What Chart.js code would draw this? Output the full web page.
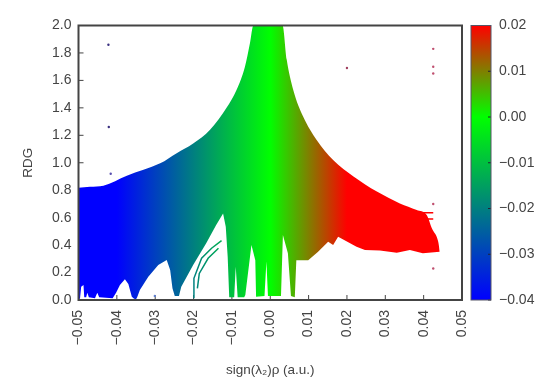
<!DOCTYPE html>
<html>
<head>
<meta charset="utf-8">
<title>RDG scatter</title>
<script src="https://cdn.jsdelivr.net/npm/chart.js@4"></script>
<style>
    html, body { margin: 0; padding: 0; background: #fff; }
    canvas { filter: blur(0.7px); }
    #myChart { position: absolute; left: 0; top: 0; }
    #colorBar { position: absolute; left: 465px; top: 0; }
</style>
</head>
<body>
<canvas id="myChart" width="550" height="386"></canvas>
<canvas id="colorBar" width="85" height="386"></canvas>
<script>
// outline of the cloud
const upperX = [-0.05, -0.047, -0.0435, -0.0374, -0.0287, -0.0244, -0.0201, -0.0157, -0.0114, -0.0088, -0.0066, -0.0053, -0.0044,
    0.0032, 0.0043, 0.006, 0.0086, 0.0121, 0.0164, 0.0217, 0.0278, 0.0338, 0.0382, 0.0408, 0.0422, 0.0438, 0.0442];
const upperRdg = [0.818, 0.825, 0.833, 0.906, 0.996, 1.07, 1.14, 1.24, 1.40, 1.53, 1.70, 1.87, 2.0,
    2.0, 1.75, 1.53, 1.335, 1.166, 1.02, 0.90, 0.79, 0.704, 0.656, 0.62, 0.52, 0.425, 0.352];

const lowerX = [-0.05, -0.0496, -0.0493, -0.0487, -0.0485, -0.048, -0.0477, -0.0473, -0.0457, -0.0451, -0.0446,
    -0.0411, -0.0402, -0.0392, -0.0379, -0.037, -0.0361, -0.0355, -0.035, -0.0347, -0.034, -0.0318, -0.0292, -0.027, -0.0261, -0.0255, -0.0249,
    -0.0238, -0.0232, -0.0201, -0.0167, -0.0141, -0.0123, -0.0116, -0.0111, -0.0107, -0.0094, -0.009, -0.0085,
    -0.0068, -0.0065, -0.0049, -0.0039, -0.0037, -0.0015, -0.001, -0.0006,
    0.0028, 0.0033, 0.0046, 0.0054, 0.0064, 0.0068, 0.0099, 0.0124, 0.0151, 0.0164, 0.0177, 0.0225, 0.0247, 0.0286, 0.033, 0.0364, 0.0398, 0.0442];
const lowerRdg = [0, 0.012, 0.097, 0.109, 0.02, 0.02, 0.053, 0.02, 0.012, 0.053, 0.02,
    0.012, 0.053, 0.109, 0.151, 0.117, 0.024, 0.01, 0.005, 0.02, 0.073, 0.17, 0.255, 0.291, 0.218, 0.085, 0.029,
    0.029, 0.097, 0.255, 0.413, 0.546, 0.631, 0.534, 0.316, 0.02, 0.02, 0.243, 0.02,
    0.02, 0.036, 0.40, 0.29, 0.024, 0.03, 0.28, 0.03,
    0.03, 0.474, 0.34, 0.03, 0.02, 0.29, 0.29, 0.35, 0.425, 0.40, 0.461, 0.388, 0.364, 0.36, 0.345, 0.364, 0.34, 0.352];

// thin strands that stand apart from the main cloud
const strands = [
    { x: [-0.0199, -0.0199, -0.0179, -0.0153, -0.0127], y: [0.012, 0.158, 0.304, 0.377, 0.432] },
    { x: [-0.019, -0.0185, -0.0162, -0.0135], y: [0.085, 0.194, 0.304, 0.377] },
    { x: [0.0395, 0.0425], y: [0.636, 0.636] },
    { x: [0.0395, 0.0425], y: [0.59, 0.59] }
];

// pale slit through the cloud near the top of the wedge
const slitX = [-0.0153, -0.014];
const slitRdg = [0.51, 0.607];

// stray points
const strayX = [-0.0422, -0.0421, -0.0416, -0.0301, 0.02, 0.0425, 0.0425, 0.0425, 0.0425, 0.0425];
const strayRdg = [1.86, 1.26, 0.92, 0.03, 1.69, 1.83, 1.70, 1.65, 0.70, 0.23];
const strayColors = ['#3a3080', '#3a3080', '#5a50b0', '#6080d0', '#a04060', '#c05070', '#c05070', '#c05070', '#c05070', '#c05070'];

const xTicks = [-0.05, -0.04, -0.03, -0.02, -0.01, 0, 0.01, 0.02, 0.03, 0.04, 0.05];
const yTicks = [0, 0.2, 0.4, 0.6, 0.8, 1.0, 1.2, 1.4, 1.6, 1.8, 2.0];
const barTicks = [-0.04, -0.03, -0.02, -0.01, 0, 0.01, 0.02];

const paletteValues = [-0.04, 0, 0.02];
const paletteColors = ['rgb(0, 0, 255)', 'rgb(0, 255, 0)', 'rgb(255, 0, 0)'];

const fontName = '"Liberation Sans", Arial, sans-serif';
const textColor = '#444';

function toPoints(xs, ys) {
    return xs.map((v, i) => ({ x: v, y: ys[i] }));
}

function fixTicks(values) {
    return function (scale) {
        scale.ticks = values.map(v => ({ value: v }));
    };
}

function minusLabel(digits) {
    return function (value) {
        return Number(value).toFixed(digits).replace('-', '\u2212');
    };
}

function paletteGradient(ctx, x0, y0, x1, y1) {
    if (![x0, y0, x1, y1].every(Number.isFinite)) return 'green';
    const g = ctx.createLinearGradient(x0, y0, x1, y1);
    const low = paletteValues[0];
    const high = paletteValues[paletteValues.length - 1];
    for (let i = 0; i < paletteValues.length; i++) {
        g.addColorStop((paletteValues[i] - low) / (high - low), paletteColors[i]);
    }
    return g;
}

function cloudColor(context) {
    const chart = context.chart;
    const x = chart.scales.x;
    if (!x) return 'green';
    return paletteGradient(chart.ctx, x.getPixelForValue(paletteValues[0]), 0, x.getPixelForValue(paletteValues[2]), 0);
}

function barColor(context) {
    const chart = context.chart;
    const y = chart.scales.y;
    if (!y) return 'green';
    return paletteGradient(chart.ctx, 0, y.getPixelForValue(paletteValues[0]), 0, y.getPixelForValue(paletteValues[2]));
}

// gnuplot style box round the plot
function framePlugin(width, color) {
    return {
        id: 'frame',
        afterDraw(chart) {
            const a = chart.chartArea;
            const c = chart.ctx;
            c.save();
            c.strokeStyle = color;
            c.lineWidth = width;
            c.strokeRect(a.left, a.top, a.right - a.left, a.bottom - a.top);
            c.restore();
        }
    };
}

// ticks point into the plot: the main chart has them under the cloud, the bar over its colours
function drawInnerTicks(chart, color, size) {
    const a = chart.chartArea;
    const c = chart.ctx;
    c.save();
    c.strokeStyle = color;
    c.lineWidth = 1;
    c.beginPath();
    if (chart.scales.x.options.display) {
        chart.scales.x.ticks.forEach(t => {
            const px = chart.scales.x.getPixelForValue(t.value);
            c.moveTo(px, a.bottom);
            c.lineTo(px, a.bottom - size);
        });
    }
    chart.scales.y.ticks.forEach(t => {
        const py = chart.scales.y.getPixelForValue(t.value);
        const side = chart.scales.y.options.position === 'right' ? a.right : a.left;
        const dir = chart.scales.y.options.position === 'right' ? -1 : 1;
        c.moveTo(side, py);
        c.lineTo(side + dir * size, py);
    });
    c.stroke();
    c.restore();
}

const datasets = [
    {
        label: 'upper',
        data: toPoints(upperX, upperRdg),
        showLine: true,
        cubicInterpolationMode: 'monotone',
        borderWidth: 0,
        pointRadius: 0,
        fill: '+1',
        backgroundColor: cloudColor
    },
    {
        label: 'lower',
        data: toPoints(lowerX, lowerRdg),
        showLine: true,
        borderWidth: 0,
        pointRadius: 0,
        fill: false
    }
];

for (let i = 0; i < strands.length; i++) {
    datasets.push({
        label: 'strand' + i,
        data: toPoints(strands[i].x, strands[i].y),
        showLine: true,
        borderWidth: 1.5,
        pointRadius: 0,
        fill: false,
        borderColor: cloudColor
    });
}

datasets.push({
    label: 'slit',
    data: toPoints(slitX, slitRdg),
    showLine: true,
    borderWidth: 1.5,
    pointRadius: 0,
    fill: false,
    borderColor: 'rgba(255, 255, 255, 0.5)'
});

datasets.push({
    label: 'stray',
    data: toPoints(strayX, strayRdg),
    showLine: false,
    pointRadius: 1.2,
    borderWidth: 0,
    backgroundColor: strayColors
});

const myChart = new Chart(document.getElementById('myChart'), {
    type: 'scatter',
    data: { datasets: datasets },
    options: {
        responsive: false,
        animation: false,
        layout: { padding: { left: 0, top: 25.5, right: 88, bottom: 0 } },
        plugins: { legend: { display: false }, tooltip: { enabled: false } },
        scales: {
            x: {
                type: 'linear',
                min: -0.05,
                max: 0.05,
                afterBuildTicks: fixTicks(xTicks),
                afterFit: s => { s.height = 86; },
                grid: { drawOnChartArea: false, drawTicks: false },
                border: { display: false },
                ticks: {
                    callback: minusLabel(2),
                    autoSkip: false,
                    minRotation: 90,
                    maxRotation: 90,
                    padding: 10,
                    color: textColor,
                    font: { family: fontName, size: 14 }
                },
                title: {
                    display: true,
                    text: 'sign(\u03BB\u2082)\u03C1 (a.u.)',
                    color: textColor,
                    padding: { top: 12, bottom: 8 },
                    font: { family: fontName, size: 13.5 }
                }
            },
            y: {
                type: 'linear',
                min: 0,
                max: 2,
                afterBuildTicks: fixTicks(yTicks),
                afterFit: s => { s.width = 78.5; },
                grid: { drawOnChartArea: false, drawTicks: false },
                border: { display: false },
                ticks: {
                    callback: minusLabel(1),
                    autoSkip: false,
                    padding: 7,
                    color: textColor,
                    font: { family: fontName, size: 14 }
                },
                title: {
                    display: true,
                    text: 'RDG',
                    color: textColor,
                    padding: { top: 20, bottom: 0 },
                    font: { family: fontName, size: 13.5 }
                }
            }
        }
    },
    plugins: [
        framePlugin(2, '#444'),
        { id: 'innerTicks', beforeDatasetsDraw(chart) { drawInnerTicks(chart, '#444', 5); } }
    ]
});

const colorBar = new Chart(document.getElementById('colorBar'), {
    type: 'bar',
    data: {
        labels: [''],
        datasets: [{
            data: [[paletteValues[0], paletteValues[2]]],
            barPercentage: 1,
            categoryPercentage: 1,
            backgroundColor: barColor
        }]
    },
    options: {
        responsive: false,
        animation: false,
        layout: { padding: { left: 6, top: 25.5, right: 0, bottom: 86 } },
        plugins: { legend: { display: false }, tooltip: { enabled: false } },
        scales: {
            x: { display: false },
            y: {
                position: 'right',
                min: paletteValues[0],
                max: paletteValues[2],
                afterBuildTicks: fixTicks(barTicks),
                afterFit: s => { s.width = 59; },
                grid: { drawOnChartArea: false, drawTicks: false },
                border: { display: false },
                ticks: {
                    callback: minusLabel(2),
                    autoSkip: false,
                    padding: 8,
                    color: textColor,
                    font: { family: fontName, size: 14 }
                }
            }
        }
    },
    plugins: [
        framePlugin(1, '#556'),
        { id: 'innerTicks', afterDatasetsDraw(chart) { drawInnerTicks(chart, '#223', 3); } }
    ]
});
</script>
</body>
</html>
